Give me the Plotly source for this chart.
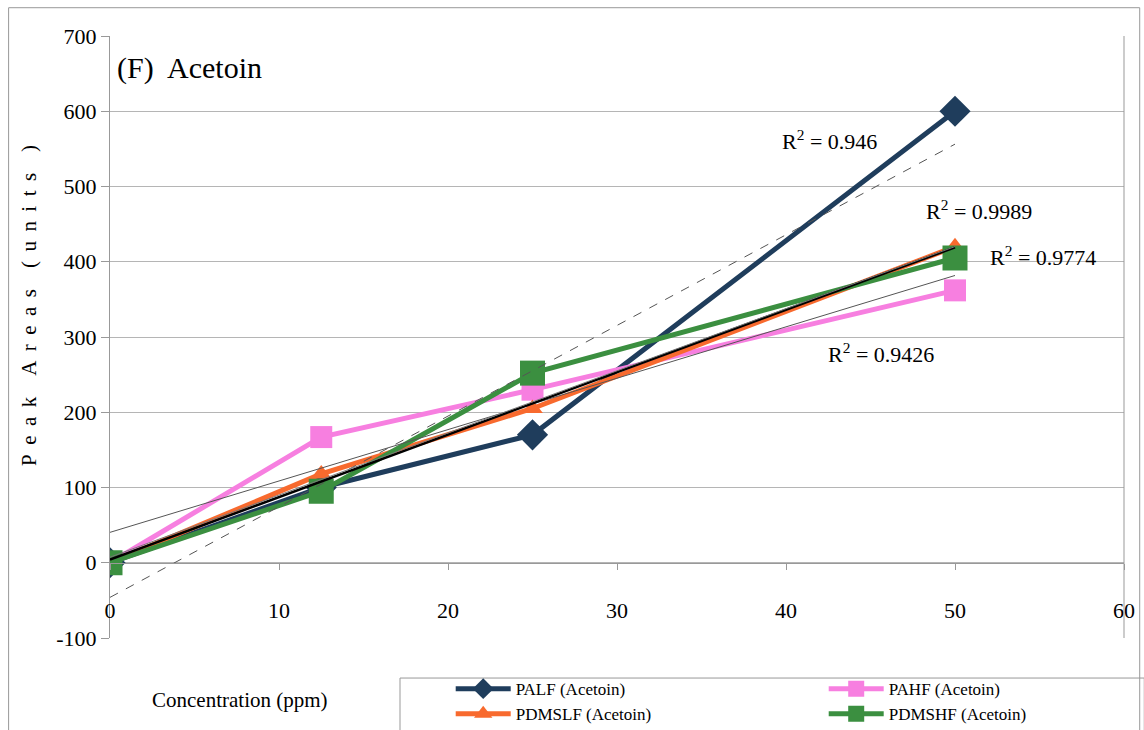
import numpy as np
import plotly.graph_objects as go

conc = [0, 12.5, 25, 50]
palf = [0, 100, 170, 600]
pahf = [0, 167, 230, 362]
pdmslf = [0, 118, 205, 420]
pdmshf = [0, 95, 252, 405]

names = ["PALF (Acetoin)", "PAHF (Acetoin)", "PDMSLF (Acetoin)", "PDMSHF (Acetoin)"]
colors = ["#1f3d5c", "#f77fe0", "#f86a2e", "#3b8f40"]
symbols = ["diamond", "square", "triangle-up", "square"]
msizes = [24, 22, 18, 25]
series = [palf, pahf, pdmslf, pdmshf]

x_ticks = [0, 10, 20, 30, 40, 50, 60]
y_ticks = [-100, 0, 100, 200, 300, 400, 500, 600, 700]
y_ticktext = ["-100", "0", "100", "200", "300", "400", "500", "600", "700"]

r2_text = ["R<sup>2</sup> = 0.946", "R<sup>2</sup> = 0.9426", "R<sup>2</sup> = 0.9989", "R<sup>2</sup> = 0.9774"]
r2_pos = [(42.6, 562), (45.6, 279), (51.4, 469), (55.2, 408)]

FONT = "Times New Roman, Liberation Serif, serif"
fig = go.Figure()

for ys, n, c, s, ms in zip(series, names, colors, symbols, msizes):
    fig.add_trace(go.Scatter(x=conc, y=ys, name=n, mode="lines+markers",
                             line=dict(color=c, width=5),
                             marker=dict(symbol=s, size=ms, color=c, line=dict(width=0))))

trend_styles = [dict(color="#555555", width=1, dash="dash"),
                dict(color="#555555", width=1),
                dict(color="black", width=2.5),
                dict(color="#777777", width=1)]
for ys, st in zip(series, trend_styles):
    m, b = np.polyfit(conc, ys, 1)
    xs = [0, 50]
    fig.add_trace(go.Scatter(x=xs, y=[m * x + b for x in xs], mode="lines",
                             line=st, showlegend=False, hoverinfo="skip"))

for t, (x, y) in zip(r2_text, r2_pos):
    fig.add_annotation(x=x, y=y, text=t, showarrow=False,
                       font=dict(family=FONT, size=22, color="black"))

ylabel = "\u00a0\u00a0\u00a0\u00a0".join("\u00a0\u2009".join(w) for w in ["Peak", "Areas", "(units", ")"])

fig.add_annotation(x=0.005, y=0.947, xref="paper", yref="paper", xanchor="left", yanchor="middle",
                   text="(F)  Acetoin", showarrow=False,
                   font=dict(family=FONT, size=30, color="black"))
fig.add_annotation(x=-0.08, y=0.553, xref="paper", yref="paper", xanchor="center", yanchor="middle",
                   text=ylabel, textangle=-90, showarrow=False,
                   font=dict(family=FONT, size=21, color="black"))
fig.add_annotation(x=0.128, y=-0.103, xref="paper", yref="paper", xanchor="center", yanchor="middle",
                   text="Concentration (ppm)", showarrow=False,
                   font=dict(family=FONT, size=21, color="black"))

# outer frame, right border of plot area, legend box
fig.add_shape(type="rect", xref="paper", yref="paper", x0=-0.1, x1=1.0155, y0=-0.3, y1=1.047,
              line=dict(color="#999999", width=1))
fig.add_shape(type="line", xref="paper", yref="paper", x0=1, x1=1, y0=0, y1=1,
              line=dict(color="#999999", width=1))
fig.add_shape(type="rect", xref="paper", yref="paper", x0=0.286, x1=1.02, y0=-0.3, y1=-0.0665,
              line=dict(color="#999999", width=1), fillcolor="white", layer="below")

fig.update_layout(
    width=1144, height=730,
    margin=dict(l=110, r=20, t=36, b=92, autoexpand=False),
    paper_bgcolor="white", plot_bgcolor="white",
    font=dict(family=FONT, color="black"),
    showlegend=True,
    legend=dict(orientation="h", x=0.336, y=-0.055, xanchor="left", yanchor="top",
                borderwidth=0, bgcolor="rgba(0,0,0,0)",
                font=dict(family=FONT, size=17, color="black"),
                entrywidth=303, entrywidthmode="pixels", itemwidth=55),
    xaxis=dict(range=[0, 60], tickvals=x_ticks, showgrid=False,
               anchor="free", position=0.125, showline=True, linecolor="#999999",
               ticks="outside", ticklen=6, tickcolor="#999999", ticklabelstandoff=22,
               tickfont=dict(family=FONT, size=22), zeroline=False),
    yaxis=dict(range=[-100, 700], tickvals=y_ticks, ticktext=y_ticktext, showgrid=True,
               gridcolor="#b5b5b5",
               showline=True, linecolor="#999999", ticks="outside", ticklen=8,
               tickcolor="#999999", tickfont=dict(family=FONT, size=22), zeroline=False),
)

fig.write_html("out.html")
